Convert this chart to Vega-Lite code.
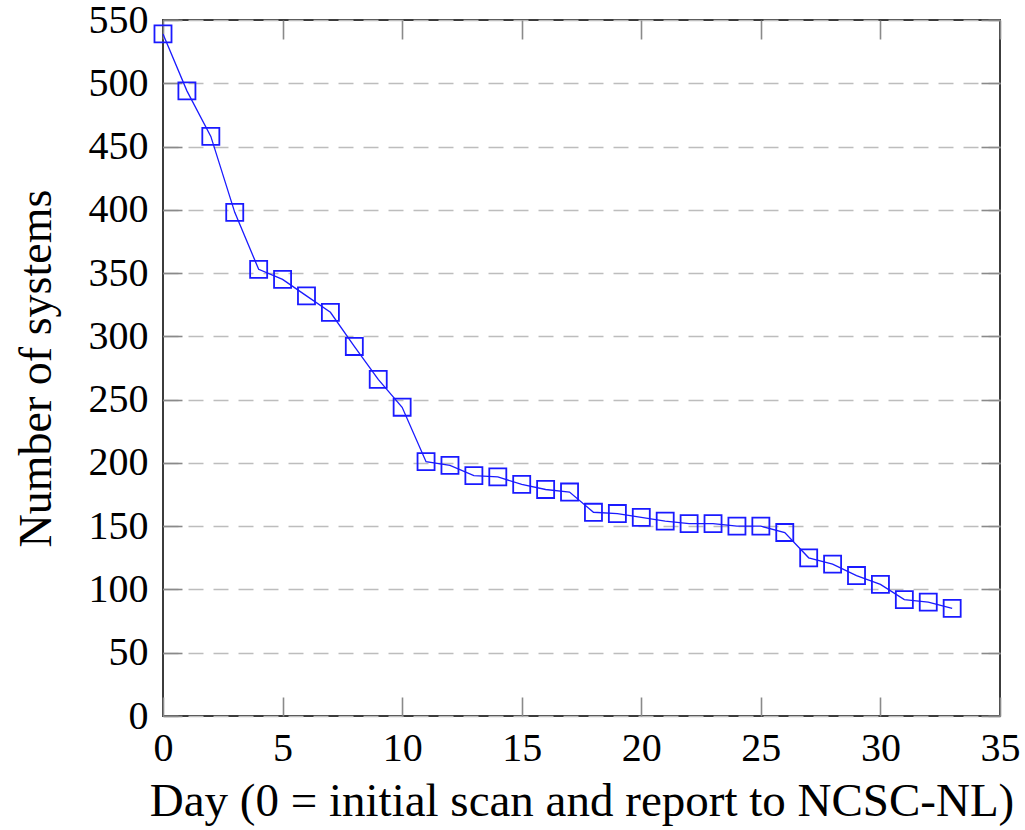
{
  "$schema": "https://vega.github.io/schema/vega-lite/v6.json",
  "width": 837,
  "height": 696,
  "autosize": "none",
  "padding": {"left": 163, "top": 20, "right": 25, "bottom": 114},
  "background": "white",
  "config": {
    "view": {"stroke": "#3c3c3c", "strokeWidth": 2},
    "font": "Liberation Serif",
    "axis": {
      "labelFont": "Liberation Serif",
      "titleFont": "Liberation Serif",
      "labelFontSize": 40,
      "titleFontSize": 46,
      "labelColor": "black",
      "titleColor": "black",
      "titleFontWeight": "normal",
      "domain": false,
      "tickColor": "#8a8a8a",
      "tickWidth": 1.6,
      "tickSize": -19
    }
  },
  "data": {
    "values": [
      {"day": 0, "systems": 539},
      {"day": 1, "systems": 494},
      {"day": 2, "systems": 458},
      {"day": 3, "systems": 398},
      {"day": 4, "systems": 353},
      {"day": 5, "systems": 345},
      {"day": 6, "systems": 332},
      {"day": 7, "systems": 319},
      {"day": 8, "systems": 292},
      {"day": 9, "systems": 266},
      {"day": 10, "systems": 244},
      {"day": 11, "systems": 201},
      {"day": 12, "systems": 198},
      {"day": 13, "systems": 190},
      {"day": 14, "systems": 189},
      {"day": 15, "systems": 183},
      {"day": 16, "systems": 179},
      {"day": 17, "systems": 177},
      {"day": 18, "systems": 161},
      {"day": 19, "systems": 160},
      {"day": 20, "systems": 157},
      {"day": 21, "systems": 154},
      {"day": 22, "systems": 152},
      {"day": 23, "systems": 152},
      {"day": 24, "systems": 150},
      {"day": 25, "systems": 150},
      {"day": 26, "systems": 145},
      {"day": 27, "systems": 125},
      {"day": 28, "systems": 120},
      {"day": 29, "systems": 111},
      {"day": 30, "systems": 104},
      {"day": 31, "systems": 92},
      {"day": 32, "systems": 90},
      {"day": 33, "systems": 85}
    ]
  },
  "layer": [
    {
      "mark": {"type": "line", "color": "#1a1aff", "strokeWidth": 1.3},
      "encoding": {
        "x": {
          "field": "day", "type": "quantitative",
          "scale": {"domain": [0, 35], "nice": false, "zero": false},
          "axis": {
            "orient": "bottom",
            "values": [0, 5, 10, 15, 20, 25, 30, 35],
            "grid": false,
            "labelPadding": 31,
            "labelFlush": false,
            "title": "Day (0 = initial scan and report to NCSC-NL)",
            "titleFontSize": 47,
            "titlePadding": 10
          }
        },
        "y": {
          "field": "systems", "type": "quantitative",
          "scale": {"domain": [0, 550], "nice": false},
          "axis": {
            "orient": "left",
            "values": [0, 50, 100, 150, 200, 250, 300, 350, 400, 450, 500, 550],
            "grid": true,
            "gridColor": "#bdbdbd",
            "gridDash": [15, 10],
            "gridWidth": 1.6,
            "labelPadding": 34,
            "labelFlush": false,
            "title": "Number of systems",
            "titlePadding": 28
          }
        }
      }
    },
    {
      "mark": {"type": "point", "shape": "square", "filled": false, "color": "#1a1aff", "size": 290, "strokeWidth": 1.8, "opacity": 1},
      "encoding": {
        "x": {
          "field": "day", "type": "quantitative",
          "axis": {
            "orient": "top",
            "values": [0, 5, 10, 15, 20, 25, 30, 35],
            "grid": false,
            "labels": false,
            "title": null
          }
        },
        "y": {
          "field": "systems", "type": "quantitative",
          "axis": {
            "orient": "right",
            "values": [0, 50, 100, 150, 200, 250, 300, 350, 400, 450, 500, 550],
            "grid": false,
            "labels": false,
            "title": null
          }
        }
      }
    }
  ],
  "resolve": {"axis": {"x": "independent", "y": "independent"}}
}
